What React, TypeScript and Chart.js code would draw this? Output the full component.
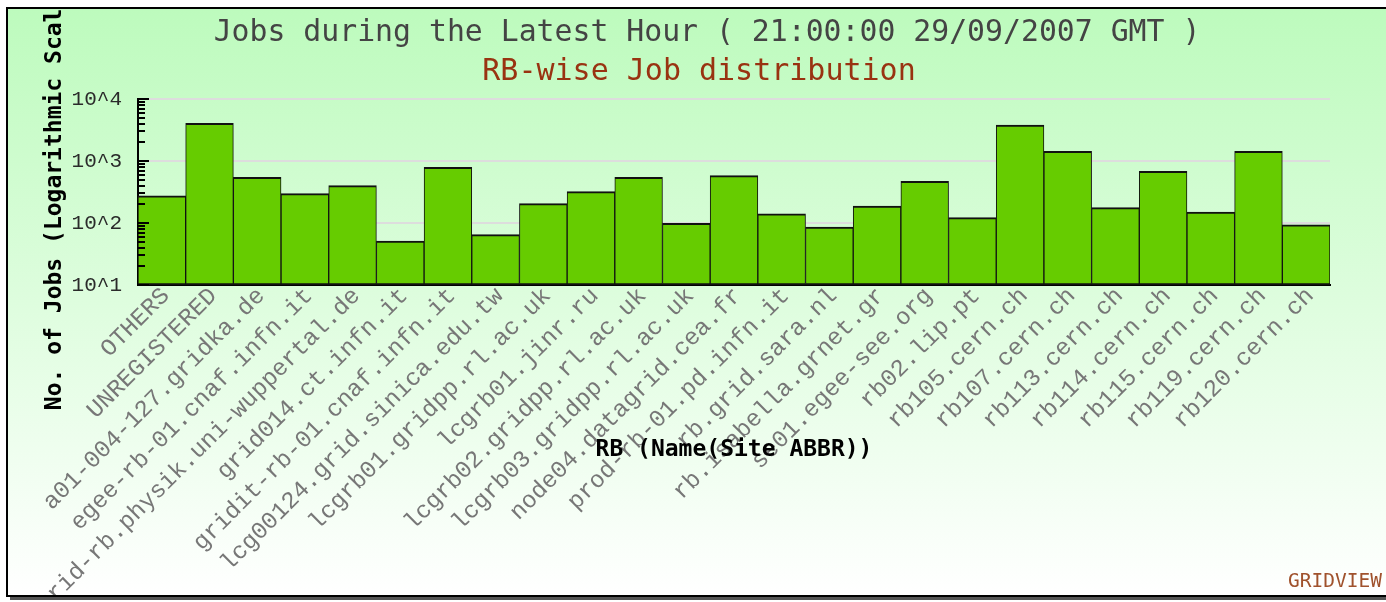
import React, { useEffect, useRef } from "react";
import { Chart, registerables } from "chart.js";

Chart.register(...registerables);

const categories: string[] = [
  "OTHERS",
  "UNREGISTERED",
  "a01-004-127.gridka.de",
  "egee-rb-01.cnaf.infn.it",
  "grid-rb.physik.uni-wuppertal.de",
  "grid014.ct.infn.it",
  "gridit-rb-01.cnaf.infn.it",
  "lcg00124.grid.sinica.edu.tw",
  "lcgrb01.gridpp.rl.ac.uk",
  "lcgrb01.jinr.ru",
  "lcgrb02.gridpp.rl.ac.uk",
  "lcgrb03.gridpp.rl.ac.uk",
  "node04.datagrid.cea.fr",
  "prod-rb-01.pd.infn.it",
  "rb.grid.sara.nl",
  "rb.isabella.grnet.gr",
  "se01.egee-see.org",
  "rb02.lip.pt",
  "rb105.cern.ch",
  "rb107.cern.ch",
  "rb113.cern.ch",
  "rb114.cern.ch",
  "rb115.cern.ch",
  "rb119.cern.ch",
  "rb120.cern.ch",
];

const jobCounts: number[] = [
  275, 4050, 546, 297, 400, 51, 790, 65, 205, 320, 546, 99, 580, 140, 86, 188,
  470, 122, 3800, 1430, 177, 683, 150, 1430, 93,
];

const yTickValues: number[] = [10, 100, 1000, 10000];
const yTickLabels: string[] = ["10^1", "10^2", "10^3", "10^4"];
const minorMultipliers: number[] = [2, 3, 4, 5, 6, 7, 8, 9];

const titleText = "Jobs during the Latest Hour ( 21:00:00 29/09/2007 GMT )";
const subtitleText = "RB-wise Job distribution";
const yTitleText = "No. of Jobs (Logarithmic Scale)";
const xTitleText = "RB (Name(Site ABBR))";
const brandText = "GRIDVIEW";

const decorPlugin = {
  id: "decor",
  afterDatasetsDraw(chart: any) {
    const ctx = chart.ctx;
    const y = chart.scales.y;
    const left = chart.chartArea.left;
    ctx.save();
    ctx.strokeStyle = "#000";
    ctx.lineWidth = 2;
    for (let i = 0; i < yTickValues.length; i++) {
      const v = yTickValues[i];
      const py = Math.round(y.getPixelForValue(v));
      ctx.beginPath();
      ctx.moveTo(left, py);
      ctx.lineTo(left + 11, py);
      ctx.stroke();
      if (i < yTickValues.length - 1) {
        for (const m of minorMultipliers) {
          const my = Math.round(y.getPixelForValue(v * m));
          ctx.beginPath();
          ctx.moveTo(left, my);
          ctx.lineTo(left + 7, my);
          ctx.stroke();
        }
      }
    }
    ctx.restore();
  },
  afterDraw(chart: any) {
    const ctx = chart.ctx;
    ctx.save();
    ctx.textAlign = "center";
    ctx.textBaseline = "middle";
    ctx.font = "29.8px 'DejaVu Sans Mono'";
    ctx.fillStyle = "#444444";
    ctx.fillText(titleText, 699, 24);
    ctx.font = "30px 'DejaVu Sans Mono'";
    ctx.fillStyle = "#993311";
    ctx.fillText(subtitleText, 691, 63);

    ctx.font = "bold 23px 'DejaVu Sans Mono'";
    ctx.fillStyle = "#000";
    ctx.fillText(xTitleText, 726, 441);

    ctx.save();
    ctx.translate(47, 186.5);
    ctx.rotate(-Math.PI / 2);
    ctx.fillText(yTitleText, 0, 0);
    ctx.restore();

    ctx.textAlign = "right";
    ctx.font = "19.5px 'DejaVu Sans Mono'";
    ctx.fillStyle = "#a0522d";
    ctx.fillText(brandText, 1374, 573);
    ctx.restore();
  },
};

export default function App() {
  const canvasRef = useRef<HTMLCanvasElement | null>(null);

  useEffect(() => {
    const canvas = canvasRef.current;
    if (!canvas) return;
    const chart = new Chart(canvas, {
      type: "bar",
      data: {
        labels: categories,
        datasets: [
          {
            data: jobCounts,
            backgroundColor: "#66cc00",
            borderColor: "#111111",
            borderWidth: { top: 2, left: 1, right: 1, bottom: 2 },
            borderSkipped: false,
            barPercentage: 1,
            categoryPercentage: 1,
          },
        ],
      },
      options: {
        responsive: false,
        animation: false,
        devicePixelRatio: 1,
        layout: { padding: { top: 90, right: 58, left: 0, bottom: 0 } },
        plugins: {
          legend: { display: false },
          tooltip: { enabled: false },
          title: { display: false },
        },
        scales: {
          x: {
            grid: { display: false, drawTicks: false },
            border: { display: true, color: "#000", width: 2 },
            ticks: {
              autoSkip: false,
              minRotation: 45,
              maxRotation: 45,
              padding: -3,
              labelOffset: 4,
              color: "#777777",
              font: { family: "'Liberation Mono'", size: 24 },
            },
            afterFit: (s: any) => {
              s.height = 310;
            },
          },
          y: {
            type: "logarithmic",
            min: 10,
            max: 10000,
            afterBuildTicks: (s: any) => {
              s.ticks = yTickValues.map((v) => ({ value: v }));
            },
            afterFit: (s: any) => {
              s.width = 130;
            },
            grid: { color: "#dddddd", lineWidth: 2, drawTicks: false },
            border: { display: true, color: "#000", width: 2 },
            ticks: {
              padding: 16,
              color: "#2a2a2a",
              font: { family: "'Liberation Mono'", size: 21 },
              callback: (v: any) => {
                const i = yTickValues.indexOf(Number(v));
                return i >= 0 ? yTickLabels[i] : "";
              },
            },
          },
        },
      },
      plugins: [decorPlugin],
    });
    return () => chart.destroy();
  }, []);

  return (
    <div
      style={{
        position: "fixed",
        left: 6,
        top: 7,
        width: 1380,
        height: 586,
        border: "2px solid #000",
        boxShadow: "4px 3px 0 #555",
        background: "linear-gradient(#bdfbbd, #ffffff)",
        overflow: "hidden",
      }}
    >
      <canvas
        ref={canvasRef}
        width={1380}
        height={586}
        style={{ display: "block", width: 1380, height: 586 }}
      />
    </div>
  );
}
